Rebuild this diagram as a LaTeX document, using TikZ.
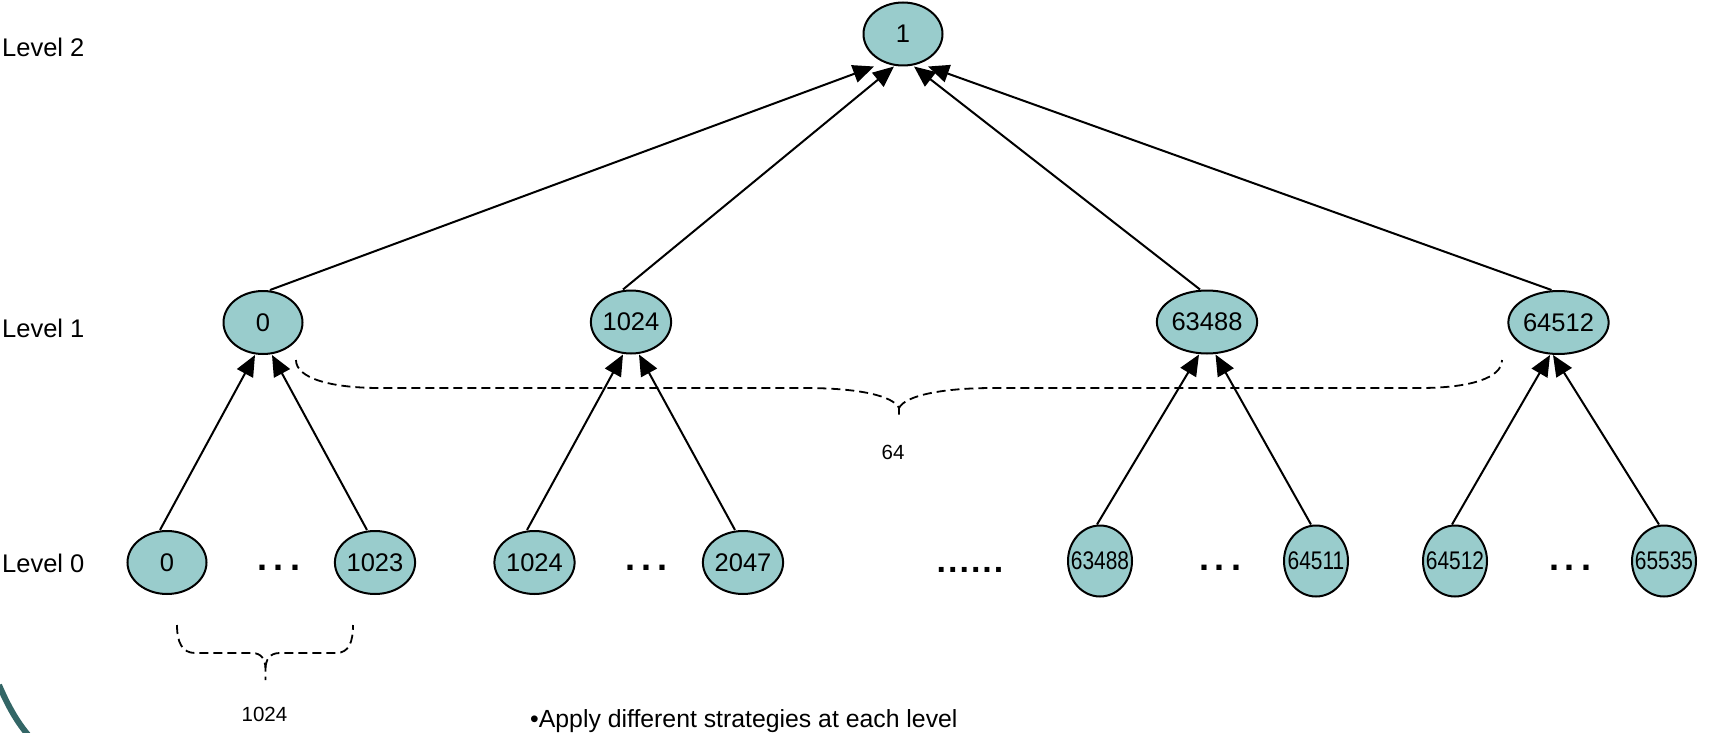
\documentclass[tikz,border=0pt]{standalone}
\usepackage{fontspec}
\usepackage{graphicx}
\setmainfont{Liberation Sans}
\usetikzlibrary{arrows.meta,shapes.geometric}
\definecolor{nodefill}{RGB}{153,204,204}
\definecolor{arccol}{RGB}{51,102,102}
\tikzset{
  tnode/.style={ellipse,draw,line width=2pt,fill=nodefill,inner sep=0pt,
    minimum width=79pt,minimum height=63pt,font=\fontsize{25.5}{28}\selectfont},
  snode/.style={ellipse,draw,line width=2pt,fill=nodefill,inner sep=0pt,
    minimum width=64pt,minimum height=71pt,font=\fontsize{25.5}{28}\selectfont},
  arr/.style={draw,line width=2pt,-{Triangle[length=21pt,width=18pt]}},
  lbl/.style={font=\fontsize{25.5}{28}\selectfont,inner sep=0pt},
  bultext/.style={font=\fontsize{24.8}{28}\selectfont,inner sep=0pt},
  small/.style={font=\fontsize{20.5}{24}\selectfont,inner sep=0pt},
  brace/.style={draw,line width=1.8pt,dash pattern=on 9pt off 5pt},
  dotsA/.style={font=\fontsize{36}{36}\selectfont\bfseries,inner sep=0pt,anchor=base},
  dotsB/.style={font=\fontsize{34}{34}\selectfont\bfseries,inner sep=0pt,anchor=base}
}
\newcommand{\sq}[1]{\makebox[0pt]{\scalebox{0.82}[1]{#1}}}
\begin{document}
\begin{tikzpicture}[x=1pt,y=-1pt]
\useasboundingbox (0,0) rectangle (1714,733);
% decorative arc
\draw[arccol,line width=6pt] (-1,685) .. controls (8,706) and (17,722) .. (29,736);
% level labels
\node[lbl,anchor=west] (L2) at (2,47) {Level 2};
\node[lbl,anchor=west] (L1) at (2,328) {Level 1};
\node[lbl,anchor=west] (L0) at (2,563) {Level 0};
% nodes
\node[tnode] (root) at (903,34) {1};
\node[tnode] (n0) at (263,322.5) {0};
\node[tnode] (n1024) at (631,322) {1024};
\node[tnode] (n63488) at (1207,322) {63488};
\node[tnode] (n64512) at (1558.5,322.5) {64512};
\node[tnode] (a0) at (167,562.5) {0};
\node[tnode] (a1023) at (375,562.5) {1023};
\node[tnode] (b1024) at (534.5,562.5) {1024};
\node[tnode] (b2047) at (743,562.5) {2047};
\node[snode] (c63488) at (1100,561) {\sq{63488}};
\node[snode] (c64511) at (1316,561) {\sq{64511}};
\node[snode] (d64512) at (1455,561) {\sq{64512}};
\node[snode] (d65535) at (1664,561) {\sq{65535}};
% dots
\node[dotsA] (e1) at (279,570.5) {.\hspace{6pt}.\hspace{6pt}.};
\node[dotsA] (e2) at (646.5,570.5) {.\hspace{6pt}.\hspace{6pt}.};
\node[dotsA] (e3) at (1220,570.5) {.\hspace{6pt}.\hspace{6pt}.};
\node[dotsA] (e4) at (1570,570.5) {.\hspace{6pt}.\hspace{6pt}.};
\node[dotsB] (e5) at (970,572) {.\hspace{2pt}.\hspace{2pt}.\hspace{2pt}.\hspace{2pt}.\hspace{2pt}.};
% level 0 -> level 1
\draw[arr] ([xshift=-7pt]a0.north) -- ([xshift=-8pt]n0.south);
\draw[arr] ([xshift=-8pt]a1023.north) -- ([xshift=9pt]n0.south);
\draw[arr] ([xshift=-7.5pt]b1024.north) -- ([xshift=-8pt]n1024.south);
\draw[arr] ([xshift=-8pt]b2047.north) -- ([xshift=8pt]n1024.south);
\draw[arr] ([xshift=-3pt]c63488.north) -- ([xshift=-8pt]n63488.south);
\draw[arr] ([xshift=-5pt]c64511.north) -- ([xshift=8.5pt]n63488.south);
\draw[arr] ([xshift=-3pt]d64512.north) -- ([xshift=-8.5pt]n64512.south);
\draw[arr] ([xshift=-5pt]d65535.north) -- ([xshift=-5.5pt]n64512.south);
% level 1 -> level 2
\draw[arr] ([xshift=7pt]n0.north) -- ([xshift=-29pt]root.south);
\draw[arr] ([xshift=-8pt]n1024.north) -- ([xshift=-9pt]root.south);
\draw[arr] ([xshift=-7pt]n63488.north) -- ([xshift=11pt]root.south);
\draw[arr] ([xshift=-7pt]n64512.north) -- ([xshift=25pt]root.south);
% braces
\draw[brace] (296,360) .. controls (296,378) and (330,388) .. (380,388) -- (804,388)
  .. controls (860,388) and (893,396) .. (899,408) -- (899,416);
\draw[brace] (899,408) .. controls (905,396) and (940,388) .. (994,388) -- (1420,388)
  .. controls (1470,388) and (1502,378) .. (1502,360);
\draw[brace] (177,625) .. controls (177,642) and (182,653) .. (195,653) -- (252,653)
  .. controls (262,653) and (265,660) .. (265.5,668) -- (265.5,680);
\draw[brace] (265.5,668) .. controls (266,660) and (269,653) .. (280,653) -- (336,653)
  .. controls (349,653) and (353,642) .. (353,625);
% brace labels
\node[small] (t1024) at (264.5,714) {1024};
\node[small] (t64) at (893,452) {64};
% bullet text
\node[bultext,anchor=base west] (bul) at (530,727) {•Apply different strategies at each level};
\end{tikzpicture}
\end{document}
